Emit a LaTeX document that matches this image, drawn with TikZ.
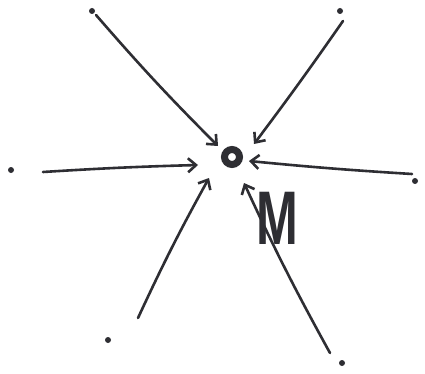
\documentclass[tikz,border=0pt]{standalone}
\usepackage{fontspec}
\setmainfont{Liberation Sans}
\usetikzlibrary{arrows.meta}
\definecolor{ink}{HTML}{2E2E33}
\tikzset{
  dot/.style={circle,fill=ink,inner sep=0pt,minimum size=6pt},
  arr/.style={draw=ink,line width=2.6pt,line cap=round,-{Straight Barb[length=8pt,width=14pt,line width=2.6pt]}},
  hub/.style={circle,draw=ink,line width=7pt,inner sep=0pt,minimum size=15pt},
}
\begin{document}
\begin{tikzpicture}[x=1pt,y=-1pt]
\useasboundingbox[fill=white] (0,0) rectangle (425,374);
% dots
\node[dot] (d1) at (92,11) {};
\node[dot] (d2) at (340,11) {};
\node[dot] (d3) at (11,170) {};
\node[dot] (d4) at (415,181) {};
\node[dot] (d5) at (108,340) {};
\node[dot] (d6) at (342,363) {};
% hub
\node[hub] (c) at (232,157) {};
% free ends
\coordinate (s1) at (96,15);
\coordinate (s2) at (343,21);
\coordinate (s3) at (43,172);
\coordinate (s4) at (412,174);
\coordinate (s5) at (138,318);
\coordinate (s6) at (330,353);
\coordinate (e1) at (218,146);
\coordinate (e2) at (254,144);
\coordinate (e3) at (198,165);
\coordinate (e4) at (249,161);
\coordinate (e5) at (209,178);
\coordinate (e6) at (244,183);
% connectors
\draw[arr] (s1) to[bend right=2] (e1);
\draw[arr] (s2) to[bend left=1] (e2);
\draw[arr] (s3) to[bend left=1] (e3);
\draw[arr] (s4) to[bend left=1] (e4);
\draw[arr] (s5) to[bend left=2] (e5);
\draw[arr] (s6) to[bend left=2] (e6);
% label
\node[text=ink,inner sep=0pt] (m) at (277,218) {\fontsize{76}{76}\selectfont\bfseries\scalebox{0.66}[1]{M}};
\end{tikzpicture}
\end{document}
